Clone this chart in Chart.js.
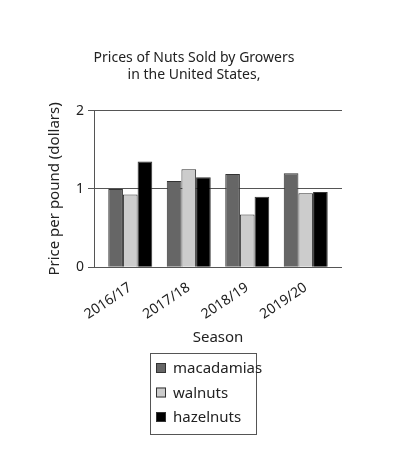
<!DOCTYPE html>
<html>
<head>
<meta charset="utf-8">
<script src="https://cdn.jsdelivr.net/npm/chart.js@4/dist/chart.umd.min.js"></script>
<style>
  html, body { margin: 0; padding: 0; background: #fff; }
  #wrap { width: 398px; height: 451px; }
</style>
</head>
<body>
<div id="wrap"><canvas id="nutsChart"></canvas></div>
<script>
const seasons = ["2016/17", "2017/18", "2018/19", "2019/20"];
const macadamias = [1.0, 1.1, 1.19, 1.2];
const walnuts = [0.93, 1.25, 0.675, 0.945];
const hazelnuts = [1.35, 1.15, 0.9, 0.96];
const seriesNames = ["macadamias", "walnuts", "hazelnuts"];
const seriesColors = ["#666666", "#cccccc", "#000000"];
const yTicks = [0, 1, 2];

const FONT = "'Noto Sans', sans-serif";

// boxed legend below the x axis title
const boxLegend = {
  id: "boxLegend",
  afterDraw(chart) {
    const ctx = chart.ctx;
    const area = chart.chartArea;
    const left = (area.left + area.right) / 2 - 68;
    const top = chart.scales.x.bottom + 6;
    const rowH = 24.5;
    ctx.save();
    ctx.strokeStyle = "#555";
    ctx.lineWidth = 1;
    ctx.strokeRect(left + 0.5, top + 0.5, 106, 81);
    ctx.font = "15px " + FONT;
    ctx.textBaseline = "middle";
    chart.data.datasets.forEach((ds, i) => {
      const cy = top + 15 + i * rowH;
      ctx.fillStyle = ds.backgroundColor;
      ctx.fillRect(left + 6, cy - 5, 10, 10);
      ctx.strokeStyle = "#333";
      ctx.strokeRect(left + 6.5, cy - 4.5, 9, 9);
      ctx.fillStyle = "#222";
      ctx.fillText(ds.label, left + 23, cy + 1);
    });
    ctx.restore();
  }
};

const ctx = document.getElementById("nutsChart").getContext("2d");
const nutsChart = new Chart(ctx, {
  type: "bar",
  data: {
    datasets: [macadamias, walnuts, hazelnuts].map((vals, i) => ({
      label: seriesNames[i],
      data: vals.map((v, j) => ({ x: j, y: v })),
      backgroundColor: seriesColors[i],
      borderColor: "#333",
      borderWidth: 1,
      categoryPercentage: 0.752,
      barPercentage: 1.0
    }))
  },
  options: {
    responsive: true,
    maintainAspectRatio: false,
    animation: false,
    layout: {
      padding: { left: 46, right: 56, top: 50, bottom: 104 }
    },
    plugins: {
      legend: { display: false },
      tooltip: { enabled: false },
      title: {
        display: true,
        text: ["Prices of Nuts Sold by Growers", "in the United States,"],
        color: "#222",
        font: { family: FONT, size: 14, weight: "normal" },
        padding: { top: 0, bottom: 27 },
        lineHeight: 1.1
      }
    },
    scales: {
      x: {
        type: "linear",
        offset: false,
        min: -0.62,
        max: 3.62,
        afterBuildTicks: (axis) => {
          axis.ticks = seasons.map((s, i) => ({ value: i }));
        },
        grid: { display: false },
        border: { display: false },
        ticks: {
          callback: (value) => seasons[value],
          minRotation: 34,
          maxRotation: 34,
          color: "#222",
          font: { family: FONT, size: 14 },
          padding: 4
        },
        title: {
          display: true,
          text: "Season",
          color: "#222",
          font: { family: FONT, size: 15 },
          padding: { top: 2, bottom: 0 }
        }
      },
      y: {
        min: 0,
        max: 2,
        afterBuildTicks: (axis) => {
          axis.ticks = yTicks.map((v) => ({ value: v }));
        },
        grid: {
          color: "#555",
          lineWidth: 1,
          tickLength: 6,
          drawTicks: true
        },
        border: { display: true, color: "#555", width: 1 },
        ticks: {
          color: "#222",
          font: { family: FONT, size: 14 },
          padding: 4
        },
        title: {
          display: true,
          text: "Price per pound (dollars)",
          color: "#222",
          font: { family: FONT, size: 15 },
          padding: { top: 0, bottom: 8 }
        }
      }
    }
  },
  plugins: [boxLegend]
});
</script>
</body>
</html>
